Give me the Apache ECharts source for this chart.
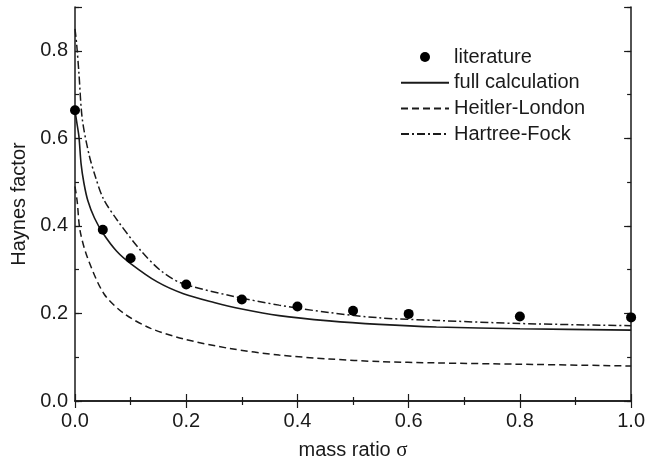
<!DOCTYPE html>
<html>
<head>
<meta charset="utf-8">
<script src="https://cdn.jsdelivr.net/npm/echarts@6/dist/echarts.min.js"></script>
<style>
  html, body { margin: 0; padding: 0; background: #fff; }
  #chart { width: 648px; height: 466px; }
</style>
</head>
<body>
<div id="chart"></div>
<script>
// literature points
const litX = [0, 0.05, 0.1, 0.2, 0.3, 0.4, 0.5, 0.6, 0.8, 1.0]
const litY = [0.664, 0.391, 0.326, 0.266, 0.232, 0.216, 0.206, 0.199, 0.193, 0.191]

// full calculation (solid)
const fullX = [0, 0.003, 0.007, 0.011, 0.016, 0.023, 0.035, 0.051, 0.075, 0.1, 0.148, 0.195, 0.25, 0.3, 0.367, 0.457, 0.547, 0.65, 0.8, 1.0]
const fullY = [0.664, 0.638, 0.605, 0.541, 0.498, 0.458, 0.418, 0.382, 0.342, 0.314, 0.272, 0.245, 0.225, 0.21, 0.195, 0.183, 0.175, 0.169, 0.165, 0.162]

// Heitler-London (dashed)
const hlX = [0, 0.004, 0.009, 0.022, 0.052, 0.088, 0.136, 0.195, 0.278, 0.367, 0.457, 0.547, 0.65, 0.8, 1.0]
const hlY = [0.49, 0.455, 0.39, 0.329, 0.245, 0.2, 0.166, 0.142, 0.12, 0.105, 0.096, 0.09, 0.087, 0.084, 0.08]

// Hartree-Fock (dash-dot)
const hfX = [0, 0.003, 0.007, 0.013, 0.025, 0.037, 0.051, 0.076, 0.118, 0.154, 0.19, 0.278, 0.367, 0.457, 0.547, 0.65, 0.8, 1.0]
const hfY = [0.85, 0.815, 0.75, 0.645, 0.564, 0.511, 0.462, 0.413, 0.344, 0.298, 0.27, 0.241, 0.219, 0.202, 0.19, 0.184, 0.177, 0.172]

const xTicks = [0, 0.2, 0.4, 0.6, 0.8, 1.0]
const yTicks = [0, 0.2, 0.4, 0.6, 0.8]

const pairs = (xs, ys) => xs.map((x, i) => [x, ys[i]])

const ink = '#1a1a1a'
const font = 'Liberation Sans, Arial, sans-serif'

const chart = echarts.init(document.getElementById('chart'))

const baseY = {
  type: 'value',
  min: 0,
  max: 0.9,
  splitLine: { show: false },
  axisLine: { show: true, lineStyle: { color: ink, width: 1.5 } },
  axisTick: { show: true, inside: true, lineStyle: { color: ink, width: 1.2 } },
}

const lineSeries = (name, xs, ys, type, width) => ({
  name,
  type: 'line',
  showSymbol: false,
  symbol: 'none',
  smooth: 0.3,
  lineStyle: { color: ink, width, type },
  itemStyle: { color: ink },
  data: pairs(xs, ys),
})

const option = {
  backgroundColor: '#fff',
  animation: false,
  textStyle: { fontFamily: font },
  grid: { left: 75, right: 15, top: 7, bottom: 65 },
  legend: {
    orient: 'vertical',
    left: 395,
    top: 41,
    itemWidth: 48,
    itemHeight: 10,
    itemGap: 3.7,
    textStyle: { fontSize: 20, color: ink, fontFamily: font, lineHeight: 22 },
    data: [
      { name: 'literature' },
      { name: 'full calculation', itemStyle: { opacity: 0 } },
      { name: 'Heitler-London', itemStyle: { opacity: 0 } },
      { name: 'Hartree-Fock', itemStyle: { opacity: 0 } },
    ],
  },
  xAxis: [
    {
      type: 'value',
      min: 0,
      max: 1,
      interval: 0.2,
      position: 'bottom',
      name: '{a|mass ratio }{b|σ}',
      nameLocation: 'middle',
      nameGap: 39,
      nameTextStyle: {
        rich: {
          a: { fontSize: 20, color: ink, fontFamily: font },
          b: { fontSize: 21, color: ink, fontFamily: 'Liberation Serif, DejaVu Serif, serif' },
        },
      },
      splitLine: { show: false },
      axisLine: { show: true, lineStyle: { color: ink, width: 1.5 } },
      axisTick: { show: true, inside: true, length: 7, lineStyle: { color: ink, width: 1.2 } },
      minorTick: { show: true, splitNumber: 2, length: 4, lineStyle: { color: ink, width: 1.2 } },
      axisLabel: {
        margin: 10,
        fontSize: 20,
        color: ink,
        formatter: (v) => (xTicks.some((t) => Math.abs(t - v) < 1e-6) ? v.toFixed(1) : ''),
      },
    },
    {
      type: 'value',
      min: 0,
      max: 1,
      interval: 0.2,
      position: 'top',
      splitLine: { show: false },
      axisLine: { show: true, lineStyle: { color: ink, width: 1.5 } },
      axisTick: { show: true, inside: true, length: 7, lineStyle: { color: ink, width: 1.2 } },
      minorTick: { show: true, splitNumber: 2, length: 4, lineStyle: { color: ink, width: 1.2 } },
      axisLabel: { show: false },
    },
  ],
  yAxis: [
    {
      ...baseY,
      position: 'left',
      interval: 0.1,
      axisTick: { ...baseY.axisTick, length: 4 },
      name: 'Haynes factor',
      nameLocation: 'middle',
      nameGap: 46,
      nameTextStyle: { fontSize: 20, color: ink, fontFamily: font },
      axisLabel: {
        margin: 7,
        fontSize: 20,
        color: ink,
        formatter: (v) => (yTicks.some((t) => Math.abs(t - v) < 1e-6) ? v.toFixed(1) : ''),
      },
    },
    {
      ...baseY,
      position: 'left',
      interval: 0.2,
      axisLine: { show: false },
      axisTick: { ...baseY.axisTick, length: 7 },
      axisLabel: { show: false },
    },
    {
      ...baseY,
      position: 'right',
      interval: 0.1,
      axisTick: { ...baseY.axisTick, length: 4 },
      axisLabel: { show: false },
    },
    {
      ...baseY,
      position: 'right',
      interval: 0.2,
      axisLine: { show: false },
      axisTick: { ...baseY.axisTick, length: 7 },
      axisLabel: { show: false },
    },
  ],
  series: [
    {
      name: 'literature',
      type: 'scatter',
      symbol: 'circle',
      symbolSize: 10,
      itemStyle: { color: '#000', opacity: 1 },
      z: 5,
      data: pairs(litX, litY),
    },
    lineSeries('full calculation', fullX, fullY, 'solid', 1.6),
    lineSeries('Heitler-London', hlX, hlY, [7, 4], 1.5),
    lineSeries('Hartree-Fock', hfX, hfY, [8, 3, 2, 3], 1.5),
  ],
}

chart.setOption(option)
</script>
</body>
</html>
